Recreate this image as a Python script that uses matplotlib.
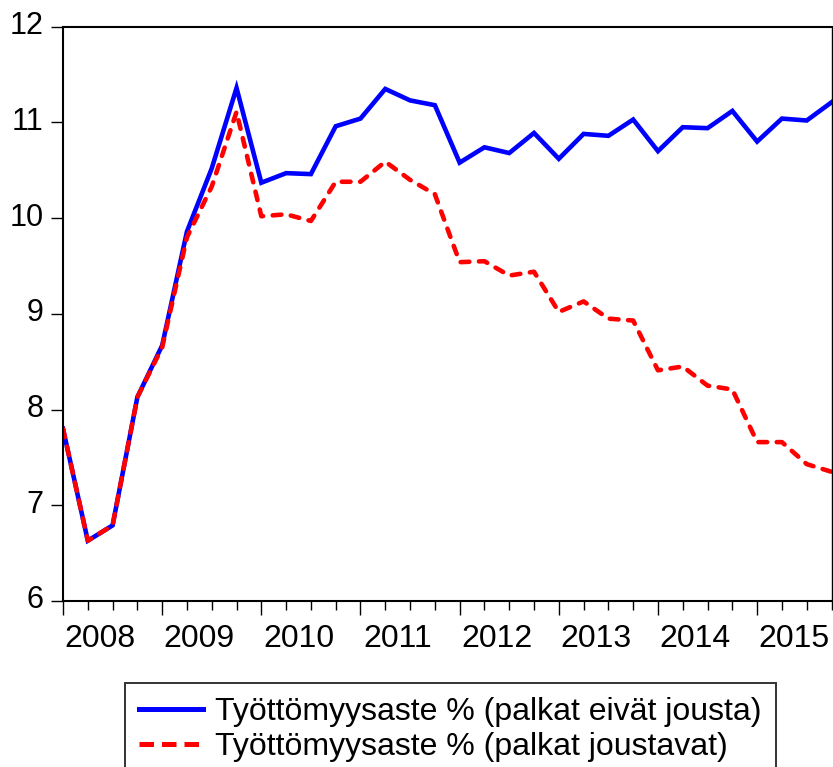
import numpy as np
import matplotlib.pyplot as plt
import matplotlib.transforms as mtrans
from matplotlib.lines import Line2D

plt.rcParams['font.family'] = ['Liberation Sans', 'DejaVu Sans']

# Data: quarterly 2008Q1 - 2015Q4
years = ['2008', '2009', '2010', '2011', '2012', '2013', '2014', '2015']
quarters = [y + 'Q' + str(q) for y in years for q in range(1, 5)]

ei_jousta = [7.80, 6.63, 6.79, 8.13, 8.67, 9.86, 10.52, 11.36,
             10.37, 10.47, 10.46, 10.96, 11.04, 11.35, 11.23, 11.18,
             10.58, 10.74, 10.68, 10.89, 10.62, 10.88, 10.86, 11.03,
             10.70, 10.95, 10.94, 11.12, 10.80, 11.04, 11.02, 11.21]
joustavat = [7.80, 6.63, 6.79, 8.13, 8.65, 9.80, 10.33, 11.11,
             10.02, 10.04, 9.97, 10.38, 10.38, 10.59, 10.40, 10.25,
             9.54, 9.55, 9.40, 9.44, 9.02, 9.13, 8.95, 8.93,
             8.41, 8.45, 8.25, 8.21, 7.66, 7.66, 7.43, 7.35]
labels = ['Työttömyysaste % (palkat eivät jousta)',
          'Työttömyysaste % (palkat joustavat)']

W, H = 833, 767
fig = plt.figure(figsize=(W / 100, H / 100), dpi=100)
ax = fig.add_axes([63 / W, 1 - 601 / H, (831.5 - 63) / W, (601 - 26.7) / H])

x = np.arange(len(quarters))
ax.plot(x, ei_jousta, color='#0000ff', lw=3.3, solid_joinstyle='miter')
ax.plot(x, joustavat, color='#ff0000', lw=3.3, ls=(0, (1.9, 2.1)),
        dash_capstyle='round')

ax.set_xlim(0, len(quarters) - 1)
ax.set_ylim(6, 12)
ax.set_yticks(range(6, 13))
ax.tick_params(axis='y', labelsize=22, length=9, width=1, pad=5, direction='out')
shift = mtrans.ScaledTranslation(0, 4 / 100, fig.dpi_scale_trans)
for lab in ax.get_yticklabels():
    lab.set_transform(lab.get_transform() + shift)

ax.set_xticks(x[::4])
ax.set_xticks(x, minor=True)
ax.set_xticklabels([])
ax.tick_params(axis='x', which='major', length=10, width=1, direction='out')
ax.tick_params(axis='x', which='minor', length=6.5, width=1, direction='out')

# year labels centred inside each year
for i, y in enumerate(years):
    ax.annotate(y, xy=(4 * i + 1.5, 0), xycoords=('data', 'axes fraction'),
                xytext=(0, -46 * 0.72), textcoords='offset points',
                ha='center', va='baseline', fontsize=23)

for s in ['left', 'bottom', 'top']:
    ax.spines[s].set_linewidth(1.5)
ax.spines['right'].set_linewidth(1.0)

handles = [Line2D([], [], color='#0000ff', lw=3.6),
           Line2D([], [], color='#ff0000', lw=3.6, ls=(0, (2.9, 1.6)),
                  dash_capstyle='butt')]
leg = fig.legend(handles, labels, loc='upper left',
                 bbox_to_anchor=(125 / W, 1 - 683 / H),
                 fontsize=23, frameon=True, fancybox=False, edgecolor='black',
                 handlelength=2.0, handletextpad=0.37, borderpad=0.45,
                 labelspacing=0.15, borderaxespad=0)
leg.get_frame().set_linewidth(1.4)

fig.savefig('out.png', dpi=100)
